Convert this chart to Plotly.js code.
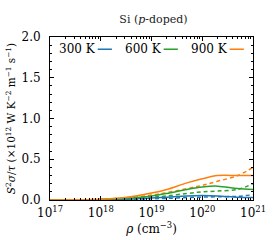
<!DOCTYPE html>
<html><head><meta charset="utf-8">
<script src="https://cdn.plot.ly/plotly-3.0.1.min.js"></script>
<style>html,body{margin:0;padding:0;background:#fff}</style>
</head><body><div id="c" style="width:274px;height:240px"></div>
<script>
const rho = [1e17, 3e17, 1e18, 3e18, 1e19, 2e19, 5e19, 1e20, 2e20, 5e20, 1e21];
const s300 = [0, 0.001, 0.003, 0.010, 0.025, 0.035, 0.050, 0.055, 0.050, 0.035, 0.030];
const s300d = [0, 0.001, 0.002, 0.007, 0.015, 0.020, 0.030, 0.035, 0.040, 0.045, 0.065];
const s600 = [0, 0.002, 0.007, 0.020, 0.050, 0.080, 0.130, 0.160, 0.170, 0.140, 0.130];
const s600d = [0, 0.002, 0.005, 0.015, 0.035, 0.050, 0.080, 0.100, 0.110, 0.130, 0.200];
const s900 = [0, 0.003, 0.010, 0.030, 0.085, 0.130, 0.210, 0.260, 0.300, 0.300, 0.300];
const s900d = [0, 0.002, 0.008, 0.025, 0.060, 0.090, 0.140, 0.180, 0.230, 0.300, 0.400];
const labels = ['300 K', '600 K', '900 K'];
const colors = ['#1f77b4', '#2ca02c', '#ff7f0e'];
const xtickvals = [1e17, 1e18, 1e19, 1e20, 1e21];
const xticktext = ['10<sup>17</sup>', '10<sup>18</sup>', '10<sup>19</sup>', '10<sup>20</sup>', '10<sup>21</sup>'];
const ytickvals = [0, 0.5, 1.0, 1.5, 2.0];
const yticktext = ['0.0', '0.5', '1.0', '1.5', '2.0'];

const solid = [s300, s600, s900];
const dashed = [s300d, s600d, s900d];
const traces = [];
for (let i = 0; i < 3; i++) {
  traces.push({x: rho, y: dashed[i], mode: 'lines', line: {color: colors[i], width: 1.5, dash: '4px,3px', shape: 'spline'}, showlegend: false, hoverinfo: 'skip'});
}
for (let i = 0; i < 3; i++) {
  traces.push({x: rho, y: solid[i], mode: 'lines', line: {color: colors[i], width: 1.5, shape: 'spline'}, showlegend: false, hoverinfo: 'skip'});
}
const F = 'DejaVu Serif';
const annotations = [];
const shapes = [];
const legX = [0.035, 0.36, 0.685];
for (let i = 0; i < 3; i++) {
  annotations.push({xref: 'paper', yref: 'paper', x: legX[i], y: 0.925, xanchor: 'left', yanchor: 'middle', text: labels[i], showarrow: false, font: {family: F, size: 12, color: '#000'}});
  shapes.push({type: 'line', xref: 'paper', yref: 'paper', x0: legX[i] + 0.2, x1: legX[i] + 0.27, y0: 0.925, y1: 0.925, line: {color: colors[i], width: 1.5}});
}
const layout = {
  width: 274, height: 240,
  margin: {l: 50, r: 21, t: 37, b: 40},
  paper_bgcolor: '#fff', plot_bgcolor: '#fff',
  font: {family: F, size: 12, color: '#000'},
  title: {text: 'Si (<i>p</i>-doped)', font: {family: F, size: 11, color: '#222'}, x: 0.56, xanchor: 'center', y: 0.92, yanchor: 'middle'},
  xaxis: {type: 'log', range: [17, 21], tickvals: xtickvals, ticktext: xticktext, ticks: 'inside', ticklen: 4, tickcolor: '#000', mirror: 'allticks', showline: true, linecolor: '#000', linewidth: 1, showgrid: false, zeroline: false,
    minor: {ticks: 'inside', ticklen: 2, tickcolor: '#000', showgrid: false, dtick: 'D1'},
    tickfont: {family: F, size: 12}, ticklabelstandoff: 2,
    title: {text: '<i>ρ</i> (cm<sup>−3</sup>)', font: {family: F, size: 12}, standoff: 3}},
  yaxis: {range: [0, 2.0], tickvals: ytickvals, ticktext: yticktext, ticks: 'inside', ticklen: 4, tickcolor: '#000', mirror: 'allticks', showline: true, linecolor: '#000', linewidth: 1, showgrid: false, zeroline: false,
    minor: {ticks: 'inside', ticklen: 2, tickcolor: '#000', showgrid: false, dtick: 0.1},
    tickfont: {family: F, size: 12}, ticklabelstandoff: 6,
    title: {text: '<i>S</i><sup>2</sup><i>σ</i>/<i>τ</i> (×10<sup>12</sup> W K<sup>−2</sup> m<sup>−1</sup> s<sup>−1</sup>)', font: {family: F, size: 10.5}, standoff: 3}},
  annotations: annotations,
  shapes: shapes,
  showlegend: false
};
Plotly.newPlot('c', traces, layout, {staticPlot: true, displayModeBar: false});
</script></body></html>
